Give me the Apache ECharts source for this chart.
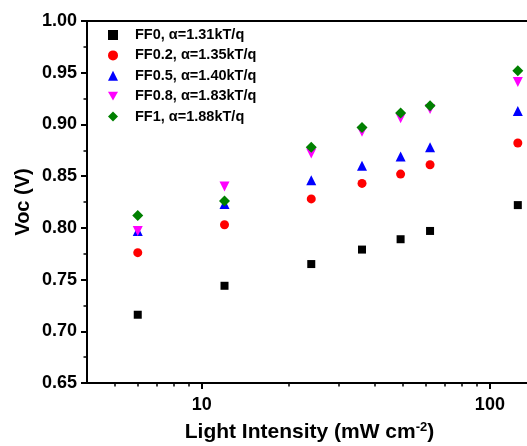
<!DOCTYPE html>
<html><head><meta charset="utf-8">
<script src="https://cdn.jsdelivr.net/npm/echarts@6/dist/echarts.min.js"></script>
<style>html,body{margin:0;padding:0;background:#fff}#c{width:527px;height:446px}</style>
</head><body><div id="c"></div>
<script>
const intensity = [6, 12, 24, 36, 49, 62, 125];
const seriesNames = ['FF0, \u03b1=1.31kT/q', 'FF0.2, \u03b1=1.35kT/q', 'FF0.5, \u03b1=1.40kT/q', 'FF0.8, \u03b1=1.83kT/q', 'FF1, \u03b1=1.88kT/q'];
const ff0  = [0.716, 0.744, 0.765, 0.779, 0.789, 0.797, 0.822];
const ff02 = [0.776, 0.803, 0.828, 0.843, 0.852, 0.861, 0.882];
const ff05 = [0.797, 0.823, 0.846, 0.860, 0.869, 0.878, 0.913];
const ff08 = [0.797, 0.840, 0.872, 0.893, 0.906, 0.915, 0.941];
const ff1  = [0.812, 0.826, 0.878, 0.897, 0.911, 0.918, 0.952];
const xMajorTicks = [10, 100];
const xMinorTicks = [5, 6, 7, 8, 9, 20, 30, 40, 50, 60, 70, 80, 90];
const yMin = 0.65, yMax = 1.00, yStep = 0.05;

const FONT = 'Liberation Sans, Arial, Helvetica, sans-serif';
const colors = ['#000000', '#ff0000', '#0000ff', '#ff00ff', '#008000'];
const symbols = ['rect', 'circle', 'triangle', 'triangle', 'diamond'];
const legendIcons = ['rect', 'circle', 'triangle', 'path://M0,0L2,0L1,1.732Z', 'diamond'];
const sizes = [8, 9, 10, 10, 11];
const rotates = [0, 0, 0, 180, 0];
const values = [ff0, ff02, ff05, ff08, ff1];

const chart = echarts.init(document.getElementById('c'), null, {renderer: 'canvas'});
const axisLine = {show: true, lineStyle: {color: '#000', width: 2}};
const xMin = 4, xMax = 140;

chart.setOption({
  animation: false,
  backgroundColor: '#fff',
  grid: {left: 87, top: 21, bottom: 63, right: -5, containLabel: false, outerBoundsMode: 'none'},
  legend: {
    orient: 'vertical', left: 108, top: 27, padding: 0,
    itemWidth: 10, itemHeight: 10, itemGap: 4.4, symbolKeepAspect: true,
    textStyle: {fontFamily: FONT, fontWeight: 'bold', fontSize: 14.5, color: '#000', lineHeight: 16, padding: [0, 0, 0, 12]},
    data: seriesNames.map((n, i) => ({name: n, icon: legendIcons[i], itemStyle: {color: colors[i]}}))
  },
  xAxis: [{
    type: 'log', logBase: 10, min: xMin, max: xMax, position: 'bottom',
    name: 'Light Intensity (mW cm{sup|-2})', nameLocation: 'middle', nameGap: 38, nameMoveOverlap: false,
    nameTextStyle: {fontFamily: FONT, fontWeight: 'bold', fontSize: 21, color: '#000',
      rich: {sup: {fontFamily: FONT, fontWeight: 'bold', fontSize: 13, color: '#000', padding: [0, 0, 9, 0]}}},
    axisLine: axisLine,
    axisTick: {show: true, inside: false, length: 6, customValues: xMajorTicks, lineStyle: {color: '#000', width: 2}},
    axisLabel: {show: true, margin: 13, customValues: xMajorTicks, fontFamily: FONT, fontWeight: 'bold', fontSize: 18, color: '#000'},
    splitLine: {show: false}
  }, {
    type: 'log', logBase: 10, min: xMin, max: xMax, position: 'bottom',
    axisLine: {show: false},
    axisTick: {show: true, inside: false, length: 3.5, customValues: xMinorTicks, lineStyle: {color: '#000', width: 1.5}},
    axisLabel: {show: false},
    splitLine: {show: false}
  }, {
    type: 'log', logBase: 10, min: xMin, max: xMax, position: 'top',
    axisLine: axisLine, axisTick: {show: false}, axisLabel: {show: false}, splitLine: {show: false}
  }],
  yAxis: {
    type: 'value', min: yMin, max: yMax, interval: yStep,
    name: 'Voc (V)', nameLocation: 'middle', nameGap: 54, nameMoveOverlap: false,
    nameTextStyle: {fontFamily: FONT, fontWeight: 'bold', fontSize: 20, color: '#000'},
    axisLine: axisLine,
    axisTick: {show: true, inside: false, length: 6, lineStyle: {color: '#000', width: 2}},
    minorTick: {show: true, splitNumber: 2, length: 3.5, lineStyle: {color: '#000', width: 1.5}},
    axisLabel: {margin: 10, fontFamily: FONT, fontWeight: 'bold', fontSize: 18, color: '#000',
      formatter: v => v.toFixed(2)},
    splitLine: {show: false}
  },
  series: seriesNames.map((n, i) => ({
    name: n, type: 'scatter', xAxisIndex: 0,
    symbol: symbols[i], symbolSize: sizes[i], symbolRotate: rotates[i],
    itemStyle: {color: colors[i], opacity: 1},
    data: intensity.map((x, j) => [x, values[i][j]])
  }))
});
</script></body></html>
